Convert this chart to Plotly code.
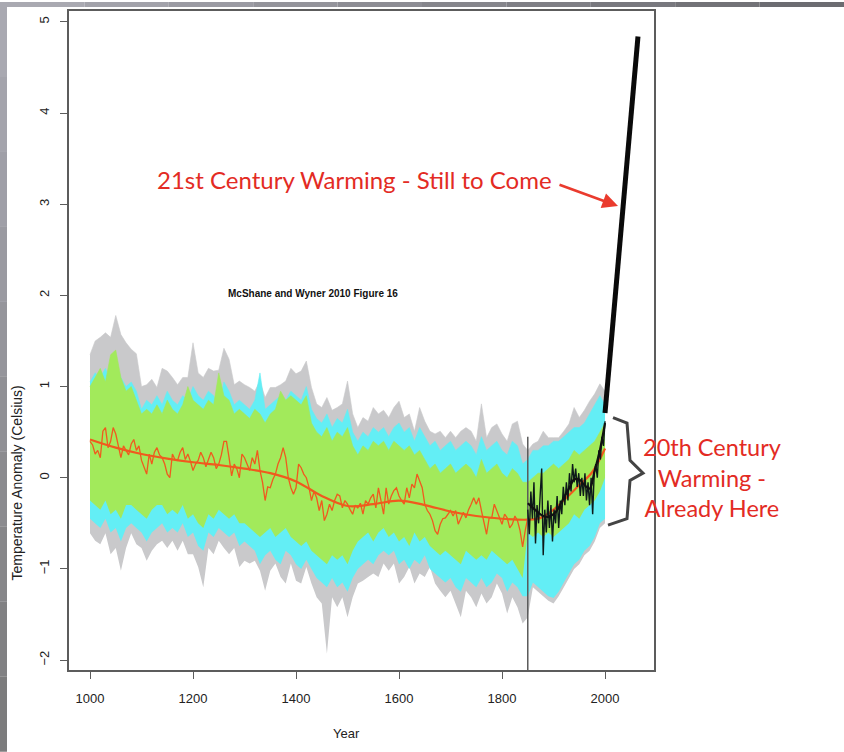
import plotly.graph_objects as go

# ---------------- data ----------------
band_years = list(range(1000, 2001, 10))

gray_hi = [1.35, 1.50, 1.54, 1.59, 1.54, 1.78, 1.57, 1.48, 1.41, 1.36,
           1.00, 1.02, 1.08, 0.99, 1.20, 1.17, 1.10, 1.02, 1.10, 1.10,
           1.48, 1.15, 1.10, 1.20, 1.17, 1.18, 1.42, 1.30, 1.02, 1.06,
           1.02, 0.99, 0.95, 1.06, 0.88, 0.99, 0.99, 1.02, 1.06, 1.20,
           1.14, 1.17, 1.28, 0.99, 0.81, 0.77, 0.88, 0.74, 0.77, 0.81,
           1.06, 0.70, 0.55, 0.66, 0.62, 0.77, 0.70, 0.74, 0.66, 0.77,
           0.84, 0.66, 0.70, 0.51, 0.77, 0.62, 0.51, 0.48, 0.51, 0.44,
           0.51, 0.44, 0.51, 0.55, 0.51, 0.40, 0.81, 0.44, 0.55, 0.59,
           0.48, 0.40, 0.59, 0.62, 0.37, 0.30, 0.37, 0.40, 0.51, 0.44,
           0.44, 0.44, 0.51, 0.59, 0.77, 0.66, 0.74, 0.84, 0.92, 1.03,
           0.95]
gray_lo = [-0.61, -0.69, -0.73, -0.61, -0.84, -0.77, -1.02, -0.77, -0.61, -0.73,
           -0.77, -0.91, -0.80, -0.73, -0.69, -0.77, -0.69, -0.80, -0.69, -0.84,
           -0.84, -0.98, -1.20, -0.77, -0.84, -0.69, -0.77, -0.84, -0.77, -0.98,
           -0.91, -0.94, -0.91, -1.02, -1.24, -1.02, -0.94, -1.09, -1.16, -0.94,
           -1.13, -1.16, -0.98, -1.16, -1.31, -1.38, -1.93, -1.31, -1.42, -1.31,
           -1.53, -1.31, -1.16, -1.13, -1.09, -1.05, -1.09, -0.94, -1.02, -0.94,
           -1.16, -1.09, -0.98, -1.16, -1.05, -1.09, -0.98, -1.16, -1.24, -1.31,
           -1.24, -1.38, -1.53, -1.24, -1.31, -1.42, -1.27, -1.38, -1.31, -1.16,
           -1.27, -1.49, -1.31, -1.42, -1.60, -1.53, -1.20, -1.25, -1.30, -1.35,
           -1.38, -1.30, -1.20, -1.10, -1.00, -0.95, -0.85, -0.80, -0.70, -0.55,
           -0.50]
cyan_hi = [1.05, 1.15, 1.10, 1.20, 1.05, 1.25, 1.10, 1.00, 1.05, 0.95,
           0.75, 0.85, 0.80, 0.90, 0.80, 0.95, 0.85, 0.80, 0.90, 0.85,
           1.00, 0.90, 0.85, 0.95, 0.90, 0.80, 1.05, 0.95, 0.80, 0.85,
           0.80, 0.75, 0.85, 1.15, 0.75, 0.80, 0.85, 0.90, 0.85, 0.95,
           0.90, 0.85, 1.00, 0.75, 0.65, 0.60, 0.70, 0.55, 0.65, 0.60,
           0.75, 0.50, 0.40, 0.50, 0.45, 0.55, 0.50, 0.55, 0.45, 0.55,
           0.60, 0.50, 0.55, 0.40, 0.55, 0.45, 0.35, 0.40, 0.30, 0.35,
           0.40, 0.30, 0.35, 0.40, 0.35, 0.25, 0.45, 0.30, 0.35, 0.40,
           0.30, 0.25, 0.40, 0.35, 0.15, 0.20, 0.30, 0.30, 0.35, 0.35,
           0.40, 0.40, 0.45, 0.50, 0.55, 0.55, 0.60, 0.70, 0.80, 0.90,
           0.80]
cyan_lo = [-0.45, -0.50, -0.55, -0.45, -0.60, -0.55, -0.70, -0.55, -0.50, -0.55,
           -0.60, -0.70, -0.60, -0.55, -0.50, -0.60, -0.55, -0.60, -0.50, -0.65,
           -0.60, -0.75, -0.80, -0.60, -0.65, -0.55, -0.60, -0.65, -0.60, -0.75,
           -0.70, -0.75, -0.80, -0.95, -0.85, -0.80, -0.90, -0.95, -0.80, -0.85,
           -0.95, -1.00, -0.90, -1.00, -1.10, -1.15, -1.20, -1.10, -1.20, -1.15,
           -1.25, -1.10, -1.00, -0.95, -0.90, -0.95, -0.85, -0.80, -0.85, -0.80,
           -0.95, -0.90, -1.00, -0.90, -0.95, -0.85, -1.00, -1.05, -1.10, -1.15,
           -1.10, -1.20, -1.25, -1.10, -1.15, -1.20, -1.10, -1.20, -1.15, -1.05,
           -1.10, -1.25, -1.15, -1.20, -1.30, -1.30, -1.15, -1.20, -1.25, -1.30,
           -1.32, -1.25, -1.15, -1.05, -0.95, -0.90, -0.80, -0.75, -0.65, -0.50,
           -0.45]
green_hi = [1.00, 1.10, 1.20, 1.05, 1.35, 1.40, 1.10, 0.95, 1.00, 0.85,
            0.70, 0.75, 0.70, 0.80, 0.70, 0.85, 0.75, 0.70, 0.80, 1.00,
            0.85, 0.80, 0.75, 0.85, 0.80, 1.15, 0.90, 0.85, 0.70, 0.75,
            0.70, 0.65, 0.75, 0.70, 0.60, 0.70, 0.75, 0.95, 0.85, 0.90,
            0.85, 0.80, 0.90, 0.60, 0.50, 0.45, 0.55, 0.40, 0.50, 0.45,
            0.55, 0.35, 0.25, 0.35, 0.30, 0.40, 0.35, 0.40, 0.30, 0.40,
            0.35, 0.30, 0.35, 0.25, 0.30, 0.20, 0.10, 0.15, 0.05, 0.10,
            0.15, 0.05, 0.10, 0.15, 0.10, 0.00, 0.20, 0.05, 0.10, 0.15,
            0.05, 0.00, 0.10, 0.05, -0.05, -0.05, 0.00, 0.05, 0.05, 0.10,
            0.15, 0.10, 0.15, 0.20, 0.30, 0.25, 0.30, 0.35, 0.40, 0.50,
            0.60]
green_lo = [-0.25, -0.30, -0.35, -0.25, -0.40, -0.35, -0.45, -0.30, -0.30, -0.35,
            -0.40, -0.45, -0.35, -0.30, -0.30, -0.40, -0.35, -0.40, -0.30, -0.45,
            -0.40, -0.50, -0.55, -0.40, -0.45, -0.35, -0.40, -0.45, -0.40, -0.50,
            -0.50, -0.55, -0.60, -0.65, -0.60, -0.55, -0.65, -0.60, -0.55, -0.65,
            -0.70, -0.75, -0.70, -0.80, -0.85, -0.90, -0.95, -0.85, -0.90, -0.85,
            -0.95, -0.80, -0.70, -0.65, -0.60, -0.70, -0.60, -0.55, -0.65, -0.60,
            -0.70, -0.65, -0.75, -0.60, -0.70, -0.65, -0.75, -0.80, -0.85, -0.80,
            -0.85, -0.90, -0.95, -0.80, -0.85, -0.90, -0.85, -0.90, -0.80, -0.85,
            -0.90, -0.95, -0.90, -1.00, -1.10, -0.60, -0.65, -0.60, -0.65, -0.60,
            -0.65, -0.60, -0.55, -0.50, -0.40, -0.45, -0.35, -0.30, -0.25, -0.15,
            0.00]

recon_years = list(range(1000, 1851, 5))
recon = [0.40, 0.36, 0.26, 0.30, 0.22, 0.51, 0.55, 0.33, 0.40, 0.55,
         0.48, 0.33, 0.22, 0.35, 0.30, 0.25, 0.37, 0.42, 0.30, 0.35,
         0.19, 0.12, 0.04, 0.26, 0.15, 0.28, 0.33, 0.25, 0.22, 0.15,
         0.04, 0.00, 0.26, 0.20, 0.19, 0.28, 0.33, 0.20, 0.26, 0.18,
         0.08, 0.15, 0.19, 0.28, 0.22, 0.12, 0.19, 0.28, 0.22, 0.10,
         0.15, 0.25, 0.40, 0.40, 0.22, 0.02, 0.15, 0.10, 0.00, 0.26,
         0.22, 0.15, 0.08, 0.22, 0.15, 0.30, 0.08, -0.05, -0.25, -0.10,
         -0.11, -0.02, 0.04, 0.15, 0.22, 0.33, 0.22, 0.00, -0.11, -0.18,
         -0.11, 0.15, 0.11, 0.04, 0.00, -0.10, -0.25, -0.15, -0.22, -0.36,
         -0.25, -0.47, -0.40, -0.29, -0.36, -0.25, -0.18, -0.20, -0.33, -0.25,
         -0.29, -0.35, -0.40, -0.30, -0.33, -0.28, -0.40, -0.25, -0.29, -0.22,
         -0.18, -0.33, -0.11, -0.25, -0.40, -0.11, -0.29, -0.20, -0.14, -0.11,
         -0.20, -0.25, -0.29, -0.11, -0.22, -0.07, -0.11, 0.04, -0.04, -0.11,
         -0.29, -0.36, -0.40, -0.47, -0.58, -0.62, -0.51, -0.45, -0.44, -0.40,
         -0.36, -0.42, -0.36, -0.51, -0.44, -0.38, -0.44, -0.35, -0.29, -0.22,
         -0.29, -0.22, -0.36, -0.50, -0.62, -0.44, -0.44, -0.29, -0.36, -0.45,
         -0.51, -0.40, -0.44, -0.55, -0.51, -0.42, -0.47, -0.58, -0.76, -0.58,
         -0.44]

smooth_years = [1000, 1050, 1100, 1150, 1200, 1250, 1300, 1350, 1400, 1450,
                1500, 1550, 1600, 1650, 1700, 1750, 1800, 1850, 1875, 1900,
                1925, 1950, 1975, 2000]
smooth = [0.42, 0.33, 0.26, 0.21, 0.17, 0.14, 0.10, 0.05, -0.04, -0.20,
          -0.31, -0.29, -0.25, -0.30, -0.37, -0.42, -0.45, -0.46, -0.44, -0.35,
          -0.22, -0.08, 0.06, 0.32]

instr_years = list(range(1850, 2001, 3))
instr = [-0.35, -0.62, -0.15, -0.45, -0.05, -0.72, -0.30, -0.50, -0.20, 0.10,
         -0.85, -0.35, -0.60, -0.25, -0.55, -0.30, -0.70, -0.35, -0.50, -0.20,
         -0.55, -0.25, -0.40, -0.10, -0.30, -0.05, -0.25, 0.05, -0.15, 0.15,
         -0.05, 0.10, -0.10, 0.05, -0.20, 0.00, -0.20, 0.05, -0.25, -0.05,
         -0.30, 0.00, -0.40, 0.05, 0.15, 0.00, 0.30, 0.20, 0.45, 0.35,
         0.62]

instr_smooth_years = list(range(1850, 2001, 10))
instr_smooth = [-0.28, -0.33, -0.38, -0.42, -0.43, -0.40, -0.33, -0.22, -0.12, -0.02,
                -0.02, -0.08, -0.12, 0.08, 0.30, 0.60]

proj_years = [2000, 2010, 2020, 2030, 2040, 2050, 2060, 2064]
proj = [0.71, 1.36, 2.05, 2.78, 3.42, 4.00, 4.60, 4.84]

split_year = 1850
split_top = 0.45

x_ticks = [1000, 1200, 1400, 1600, 1800, 2000]
y_ticks = [-2, -1, 0, 1, 2, 3, 4, 5]

# ---------------- layout geometry ----------------
W, H = 844, 752
L, R, T, B = 69, 190, 9, 82
PW, PH = W - L - R, H - T - B
X_RANGE = [959.2, 2095.1]
Y_RANGE = [-2.109, 5.12]


def pxx(x):
    return (x - L) / PW


def pxy(y):
    return (H - B - y) / PH


C_GRAY, C_CYAN, C_GREEN = "#c9c9cb", "#63eef5", "#a2ea5b"
C_ORANGE, C_RED = "#f05a1e", "#e32b24"

fig = go.Figure()


def band(lo, hi, color):
    fig.add_trace(go.Scatter(x=band_years, y=lo, mode="lines",
                             line=dict(width=0, color=color), hoverinfo="skip"))
    fig.add_trace(go.Scatter(x=band_years, y=hi, mode="lines", fill="tonexty",
                             fillcolor=color, line=dict(width=0.6, color=color),
                             hoverinfo="skip"))


band(gray_lo, gray_hi, C_GRAY)
band(cyan_lo, cyan_hi, C_CYAN)
band(green_lo, green_hi, C_GREEN)

fig.add_trace(go.Scatter(x=recon_years, y=recon, mode="lines",
                         line=dict(color=C_ORANGE, width=1.3)))
fig.add_trace(go.Scatter(x=smooth_years, y=smooth, mode="lines",
                         line=dict(color=C_ORANGE, width=2.2, shape="spline")))
fig.add_trace(go.Scatter(x=[split_year, split_year], y=[Y_RANGE[0], split_top],
                         mode="lines", line=dict(color="#5a5a5a", width=1.5)))
fig.add_trace(go.Scatter(x=instr_years, y=instr, mode="lines",
                         line=dict(color="#0d1a1a", width=1.4)))
fig.add_trace(go.Scatter(x=instr_smooth_years, y=instr_smooth, mode="lines",
                         line=dict(color="#111111", width=2.2, shape="spline")))
fig.add_trace(go.Scatter(x=proj_years, y=proj, mode="lines",
                         line=dict(color="#0a0a0a", width=5)))

axis_common = dict(showline=True, linecolor="#5c5c5c", linewidth=1.6, mirror=True,
                   ticks="outside", ticklen=7, tickwidth=1.4, tickcolor="#5c5c5c",
                   showgrid=False, zeroline=False,
                   tickfont=dict(family="Liberation Sans, Arial", size=13, color="#222"))

fig.update_layout(
    width=W, height=H,
    margin=dict(l=L, r=R, t=T, b=B),
    paper_bgcolor="white", plot_bgcolor="white",
    showlegend=False, hovermode=False,
    xaxis=dict(range=X_RANGE, tickvals=x_ticks, ticklabelstandoff=9, **axis_common),
    yaxis=dict(range=Y_RANGE, tickvals=y_ticks, tickangle=-90, ticklabelstandoff=6,
               **axis_common),
)

# slide background strips (gradient gray)
left_cols = ["#a9a9b1", "#a4a4ac", "#9f9fa7", "#9a9aa1", "#95959b", "#909095",
             "#8b8b8f", "#868689", "#818183", "#7c7c7d"]
n = len(left_cols)
for i, c in enumerate(left_cols):
    y0 = H * i / n
    y1 = H * (i + 1) / n
    fig.add_shape(type="rect", xref="paper", yref="paper", x0=pxx(0), x1=pxx(7),
                  y0=pxy(y1), y1=pxy(y0), fillcolor=c, line=dict(width=0), layer="above")
top_cols = ["#a9a9b1", "#a2a2aa", "#9b9ba3", "#94949b", "#8d8d94", "#86868c",
            "#7f7f85", "#78787e", "#727277", "#6c6c71"]
n = len(top_cols)
for i, c in enumerate(top_cols):
    fig.add_shape(type="rect", xref="paper", yref="paper",
                  x0=pxx(W * i / n), x1=pxx(W * (i + 1) / n),
                  y0=pxy(5), y1=pxy(0), fillcolor=c, line=dict(width=0), layer="above")

# brace for 20th century
brace = [(2015.5, 0.66), (2042.7, 0.60), (2048.5, 0.19), (2073.8, 0.05),
         (2048.5, -0.03), (2042.7, -0.45), (2005.8, -0.52)]
path = "M " + " L ".join(f"{x},{y}" for x, y in brace)
fig.add_shape(type="path", xref="x", yref="y", path=path,
              line=dict(color="#444444", width=3))

gill = "Lato, 'Gill Sans', 'Open Sans', sans-serif"
fig.add_annotation(xref="paper", yref="paper", x=pxx(354.5), y=pxy(178),
                   text="21st Century Warming - Still to Come", showarrow=False,
                   font=dict(family=gill, size=24, color=C_RED),
                   xanchor="center", yanchor="middle")
fig.add_annotation(xref="x", yref="y", x=2025.2, y=2.98, ax=1908.7, ay=3.22,
                   axref="x", ayref="y", text="", showarrow=True, arrowhead=2,
                   arrowsize=1.2, arrowwidth=2.6, arrowcolor="#ea3b2e", standoff=0)
fig.add_annotation(xref="paper", yref="paper", x=pxx(712), y=pxy(477),
                   text="20th Century<br>Warming -<br>Already Here", showarrow=False,
                   font=dict(family=gill, size=23.5, color=C_RED),
                   xanchor="center", yanchor="middle", align="center")
fig.add_annotation(xref="paper", yref="paper", x=pxx(313), y=pxy(292),
                   text="<b>McShane and Wyner 2010 Figure 16</b>", showarrow=False,
                   font=dict(family="Liberation Sans, Arial", size=10, color="#111"),
                   xanchor="center", yanchor="middle")
fig.add_annotation(xref="paper", yref="paper", x=pxx(346), y=pxy(734),
                   text="Year", showarrow=False,
                   font=dict(family="Liberation Sans, Arial", size=13, color="#222"),
                   xanchor="center", yanchor="middle")
fig.add_annotation(xref="paper", yref="paper", x=pxx(17), y=pxy(483),
                   text="Temperature Anomaly (Celsius)", showarrow=False, textangle=-90,
                   font=dict(family="Liberation Sans, Arial", size=14, color="#222"),
                   xanchor="center", yanchor="middle")

fig.write_html("out.html", config={"displayModeBar": False})
